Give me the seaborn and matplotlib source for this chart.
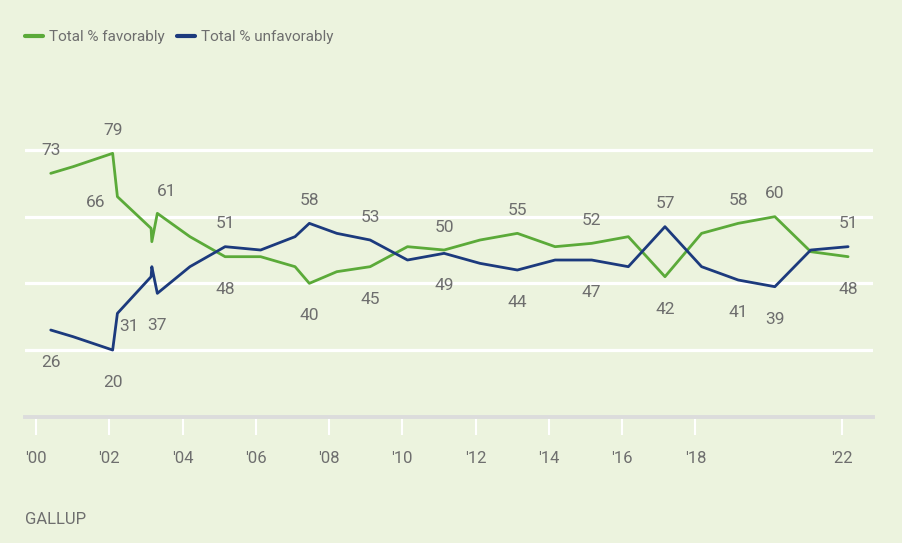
import numpy as np
import pandas as pd
import matplotlib
matplotlib.use("Agg")
import matplotlib.pyplot as plt
import seaborn as sns

# ---------------- data ----------------
years = [2000.40, 2001.01, 2002.09, 2002.22, 2003.14, 2003.16, 2003.31, 2004.20,
         2005.16, 2006.13, 2007.07, 2007.46, 2008.21, 2009.12, 2010.14, 2011.14,
         2012.12, 2013.14, 2014.17, 2015.17, 2016.17, 2017.17, 2018.17, 2019.17,
         2020.17, 2021.15, 2022.17]
favorable = [73, 75, 79, 66, 56.5, 52.5, 61, 54, 48, 48, 45, 40, 43.5, 45, 51, 50,
             53, 55, 51, 52, 54, 42, 55, 58, 60, 49.5, 48]
unfavorable = [26, 24, 20, 31, 42, 45, 37, 45, 51, 50, 54, 58, 55, 53, 47, 49,
               46, 44, 47, 47, 45, 57, 45, 41, 39, 50, 51]
series_names = ["Total % favorably", "Total % unfavorably"]

tick_years = [2000, 2002, 2004, 2006, 2008, 2010, 2012, 2014, 2016, 2018, 2022]
tick_labels = ["'00", "'02", "'04", "'06", "'08", "'10", "'12", "'14", "'16", "'18", "'22"]

# labelled points: (index into series, placement)
fav_labels = [(0, "above"), (2, "above"), (3, "left"), (6, "above_right"), (8, "below"),
              (11, "below"), (13, "below"), (15, "above"), (17, "above"), (19, "above"),
              (21, "below"), (23, "above"), (24, "above"), (26, "below")]
unfav_labels = [(0, "below"), (2, "below"), (3, "right"), (6, "below"), (8, "above"),
                (11, "above"), (13, "above"), (15, "below"), (17, "below"), (19, "below"),
                (21, "above"), (23, "below"), (24, "below"), (26, "above")]

# ---------------- style ----------------
BG = "#ECF3DE"
GREEN = "#5BAA39"
BLUE = "#1C3A7D"
TXT = "#6E6E6E"
offsets = {"above": (0, 16.5), "below": (0, -23.5), "left": (-15.5, -4),
           "above_right": (7, 16), "right": (8, -9.5)}

sns.set_theme(style="white", rc={"axes.facecolor": BG, "figure.facecolor": BG})
plt.rcParams["font.family"] = ["Roboto", "DejaVu Sans"]

n = len(years)
df = pd.DataFrame({
    "year": years * 2,
    "value": favorable + unfavorable,
    "series": [series_names[0]] * n + [series_names[1]] * n,
})

W, H = 902, 543
fig = plt.figure(figsize=(W / 100, H / 100), dpi=100)
ax = fig.add_axes([25 / W, 1 - 416.7 / H, 848 / W, (416.7 - 100) / H])

sns.lineplot(data=df, x="year", y="value", hue="series",
             palette=[GREEN, BLUE], estimator=None, linewidth=2.0, ax=ax, zorder=3)

ax.set_xlim(1999.697, 2022.85)
ax.set_ylim(0, 95)
ax.set_yticks([20, 40, 60, 80])
ax.set_yticklabels([])
ax.tick_params(axis="y", length=0)
ax.grid(axis="y", color="white", linewidth=2.3)
ax.grid(axis="x", visible=False)
ax.set_axisbelow(True)

ax.set_xticks(tick_years)
ax.set_xticklabels(tick_labels)
ax.tick_params(axis="x", bottom=True, length=13, width=1.5, color="white",
               pad=12, labelsize=12, labelcolor=TXT, direction="out")
for s in ["left", "right", "top"]:
    ax.spines[s].set_visible(False)
ax.spines["bottom"].set_color("#DCDCDC")
ax.spines["bottom"].set_linewidth(2.8)
ax.set_xlabel("")
ax.set_ylabel("")

# data labels
for vals, labs, col in [(favorable, fav_labels, GREEN), (unfavorable, unfav_labels, BLUE)]:
    for idx, pos in labs:
        ax.annotate(f"{vals[idx]:.0f}", (years[idx], vals[idx]), xytext=offsets[pos],
                    textcoords="offset points", ha="center", va="center",
                    fontsize=12.5, color=TXT)

# legend
handles, labels = ax.get_legend_handles_labels()
for h in handles:
    h.set_linewidth(3)
ax.legend(handles, labels, loc="center left", bbox_to_anchor=(25 / W, 1 - 37 / H),
          bbox_transform=fig.transFigure, ncol=2, frameon=False, handlelength=1.15,
          handletextpad=0.4, columnspacing=0.85, borderpad=0, borderaxespad=0,
          fontsize=11, labelcolor=TXT)

fig.text(25 / W, 1 - 520 / H, "GALLUP", ha="left", va="center", fontsize=12, color=TXT)

fig.savefig("out.png", dpi=100, facecolor=BG)
